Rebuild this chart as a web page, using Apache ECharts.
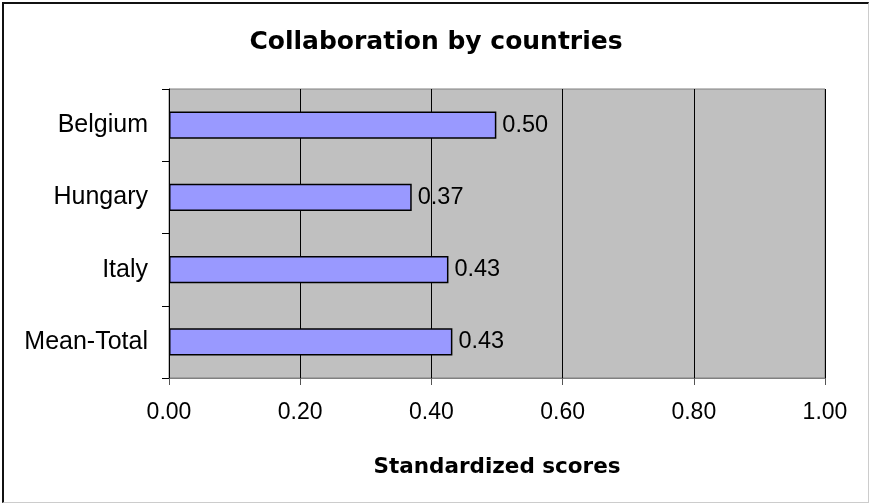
<!DOCTYPE html>
<html>
<head>
<meta charset="utf-8">
<script src="https://cdn.jsdelivr.net/npm/echarts@6/dist/echarts.min.js"></script>
<style>
  html, body { margin: 0; padding: 0; background: #fff; }
  #chart {
    position: absolute; left: 2px; top: 2px; width: 864px; height: 498px;
    border-left: 2px solid #111; border-top: 2px solid #111;
    border-right: 1px solid #ccc; border-bottom: 1px solid #ccc;
  }
</style>
</head>
<body>
<div id="chart"></div>
<script>
var countries = ['Belgium', 'Hungary', 'Italy', 'Mean-Total'];
var scores = [0.499, 0.37, 0.426, 0.432];

var chart = echarts.init(document.getElementById('chart'));
var font = 'Liberation Sans, Arial, sans-serif';
var boldFont = 'DejaVu Sans, Liberation Sans, sans-serif';

chart.setOption({
  animation: false,
  textStyle: { fontFamily: font },
  title: {
    text: 'Collaboration by countries',
    left: 'center',
    top: 21,
    textStyle: { fontSize: 25, fontWeight: 'bold', color: '#000', fontFamily: boldFont }
  },
  grid: {
    left: 165, right: 43, top: 85, bottom: 124,
    show: true, backgroundColor: '#c0c0c0', borderColor: '#808080', borderWidth: 1
  },
  xAxis: {
    type: 'value',
    min: 0, max: 1, interval: 0.2,
    name: 'Standardized scores',
    nameLocation: 'middle',
    nameGap: 78,
    nameTextStyle: { fontSize: 21.5, fontWeight: 'bold', color: '#000', fontFamily: boldFont },
    axisLine: { show: true, lineStyle: { color: '#808080' } },
    axisTick: { show: true, length: 7, lineStyle: { color: '#555' } },
    axisLabel: {
      margin: 23, fontSize: 23, color: '#000',
      formatter: function (v) { return v.toFixed(2); }
    },
    splitLine: { show: true, lineStyle: { color: '#000', width: 1 } }
  },
  yAxis: {
    type: 'category',
    data: countries,
    inverse: true,
    axisLine: { show: true, lineStyle: { color: '#000' } },
    axisTick: { show: true, length: 7, inside: false, lineStyle: { color: '#000' } },
    axisLabel: { margin: 21, fontSize: 25, color: '#000' }
  },
  series: [{
    type: 'bar',
    data: scores,
    barWidth: '37.5%',
    itemStyle: { color: '#9999ff', borderColor: '#000', borderWidth: 1.5 },
    label: {
      show: true, position: 'right', distance: 6,
      fontSize: 23.5, color: '#000',
      formatter: function (p) { return p.value.toFixed(2); }
    }
  }]
});
</script>
</body>
</html>
